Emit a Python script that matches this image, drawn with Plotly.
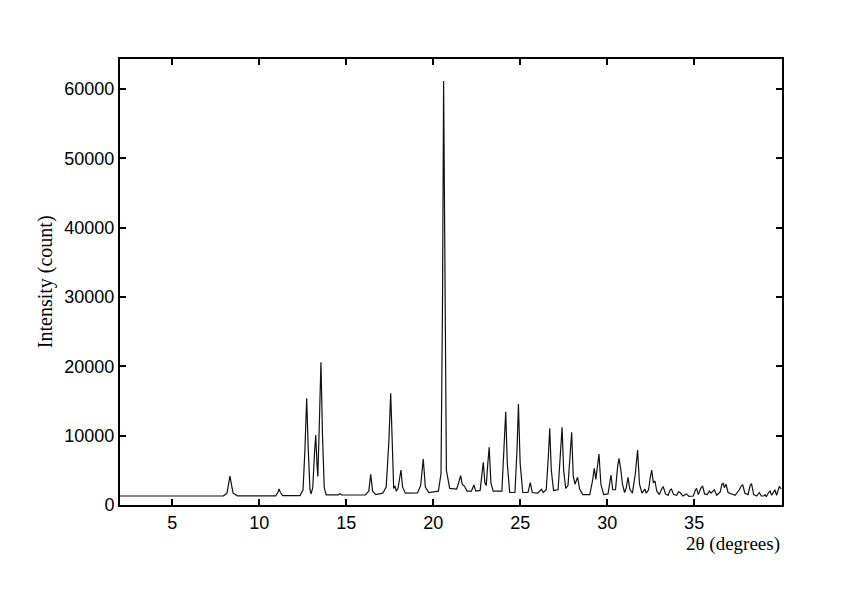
import plotly.graph_objects as go

# Trace vertices (2theta in degrees, intensity in counts)
pts = [
    (2.0,1300),(7.95,1320),(8.15,1700),(8.25,3200),(8.32,4180),(8.4,3000),(8.5,1700),(8.75,1320),
    (10.95,1330),(11.07,1800),(11.14,2300),(11.22,1800),(11.35,1340),
    (12.35,1350),(12.52,2200),(12.63,8000),(12.73,15380),(12.82,8000),(12.92,2200),(12.98,1600),
    (13.08,2500),(13.18,7500),(13.25,10100),(13.32,6000),(13.37,4100),(13.45,11000),(13.55,20580),
    (13.64,10000),(13.74,2500),(13.85,1450),
    (14.55,1450),(14.64,1650),(14.73,1450),
    (16.1,1440),(16.3,2000),(16.41,4420),(16.52,2000),(16.7,1500),
    (17.1,1700),(17.3,2600),(17.45,9000),(17.56,16100),(17.65,8000),(17.73,2400),(17.8,2740),
    (17.88,2000),(17.98,2400),(18.08,4000),(18.15,5050),(18.24,2600),(18.4,1700),
    (19.1,1750),(19.28,2800),(19.43,6630),(19.55,2600),(19.75,1800),
    (20.3,2000),(20.45,4500),(20.54,30000),(20.6,61150),(20.67,32000),(20.76,5000),(20.95,2400),
    (21.35,2300),(21.5,3500),(21.58,4230),(21.67,3000),(21.8,2700),(21.95,2000),
    (22.2,2000),(22.34,2890),(22.45,2000),
    (22.7,2100),(22.8,4000),(22.88,6160),(22.97,3200),(23.05,2800),(23.14,6000),(23.22,8320),
    (23.32,3200),(23.45,2000),
    (23.95,2000),(24.08,8000),(24.17,13460),(24.26,6000),(24.4,1800),
    (24.7,1800),(24.82,8000),(24.9,14570),(25.0,6000),(25.15,1800),
    (25.45,1800),(25.58,3220),(25.7,1800),(26.0,1700),(26.15,2000),(26.23,2260),(26.32,1800),
    (26.5,2200),(26.62,7000),(26.7,11060),(26.79,5000),(26.92,2100),
    (27.18,2200),(27.32,7000),(27.41,11200),(27.5,5000),(27.62,2400),(27.75,2800),(27.87,7000),
    (27.96,10500),(28.05,4200),(28.15,3000),(28.3,4000),(28.42,2300),(28.6,1500),
    (29.0,1500),(29.16,3500),(29.26,5300),(29.35,3700),(29.45,5500),(29.53,7350),(29.64,3000),(29.8,1500),
    (30.05,1600),(30.15,3000),(30.22,4330),(30.32,2200),(30.48,2200),(30.6,5500),(30.68,6730),
    (30.78,5200),(30.88,3000),(31.0,1800),
    (31.1,2500),(31.2,4000),(31.3,2300),(31.45,1700),(31.62,4500),(31.75,7930),(31.86,3000),
    (32.0,1700),(32.1,2100),(32.17,2300),(32.25,1700),
    (32.38,2200),(32.48,4000),(32.56,5050),(32.66,3200),(32.75,3460),(32.85,2000),(33.0,1500),
    (33.15,2400),(33.23,2600),(33.35,1600),(33.5,1400),(33.63,2200),(33.7,2300),(33.82,1500),
    (34.0,1400),(34.1,1900),(34.2,1800),(34.35,1300),(34.5,1500),(34.57,1600),(34.7,1250),(34.95,1300),
    (35.08,2200),(35.14,2400),(35.24,1500),(35.4,2500),(35.49,2700),(35.6,1600),(35.75,1500),
    (35.87,2000),(35.97,1700),(36.1,2100),(36.16,2200),(36.3,1400),(36.5,1900),(36.6,3000),
    (36.67,3100),(36.74,2500),(36.83,3000),(36.95,1800),(37.15,1600),(37.35,1400),
    (37.6,2200),(37.72,2800),(37.79,2900),(37.92,1700),(38.1,1500),(38.22,2800),(38.3,3100),
    (38.42,1500),(38.6,1300),(38.74,1800),(38.86,1300),(39.0,1300),(39.08,1500),(39.15,1200),
    (39.28,1800),(39.36,2000),(39.46,1400),(39.56,1900),(39.64,2200),(39.74,1400),(39.82,2000),
    (39.9,2700),(40.0,2300),
]
two_theta = [p[0] for p in pts]
intensity = [p[1] for p in pts]

x_ticks = [5, 10, 15, 20, 25, 30, 35]
y_ticks = [0, 10000, 20000, 30000, 40000, 50000, 60000]

fig = go.Figure()
fig.add_trace(go.Scatter(x=two_theta, y=intensity, mode="lines",
                         line=dict(color="#111111", width=1.2), showlegend=False,
                         hoverinfo="skip"))

axis_common = dict(showline=True, linecolor="black", linewidth=2, mirror="ticks",
                   ticks="inside", ticklen=6, tickwidth=1.5, tickcolor="black",
                   showgrid=False, zeroline=False,
                   tickfont=dict(family="Liberation Sans", size=18, color="black"))

fig.update_layout(
    width=842, height=595,
    margin=dict(l=112, r=68, t=51, b=98),
    paper_bgcolor="white", plot_bgcolor="white",
    xaxis=dict(range=[2, 40.05], tickvals=x_ticks, ticktext=[str(v) for v in x_ticks], **axis_common),
    yaxis=dict(range=[0, 64330], tickvals=y_ticks, ticktext=[str(v) for v in y_ticks], **axis_common),
    annotations=[
        dict(text="2θ (degrees)", xref="paper", yref="paper", x=1.0, y=-0.088,
             xanchor="right", yanchor="middle", showarrow=False,
             font=dict(family="Liberation Serif", size=19, color="black")),
        dict(text="Intensity (count)", xref="paper", yref="paper", x=-0.113, y=0.5,
             xanchor="center", yanchor="middle", textangle=-90, showarrow=False,
             font=dict(family="Liberation Serif", size=20, color="black")),
    ],
)

fig.write_html("out.html")
